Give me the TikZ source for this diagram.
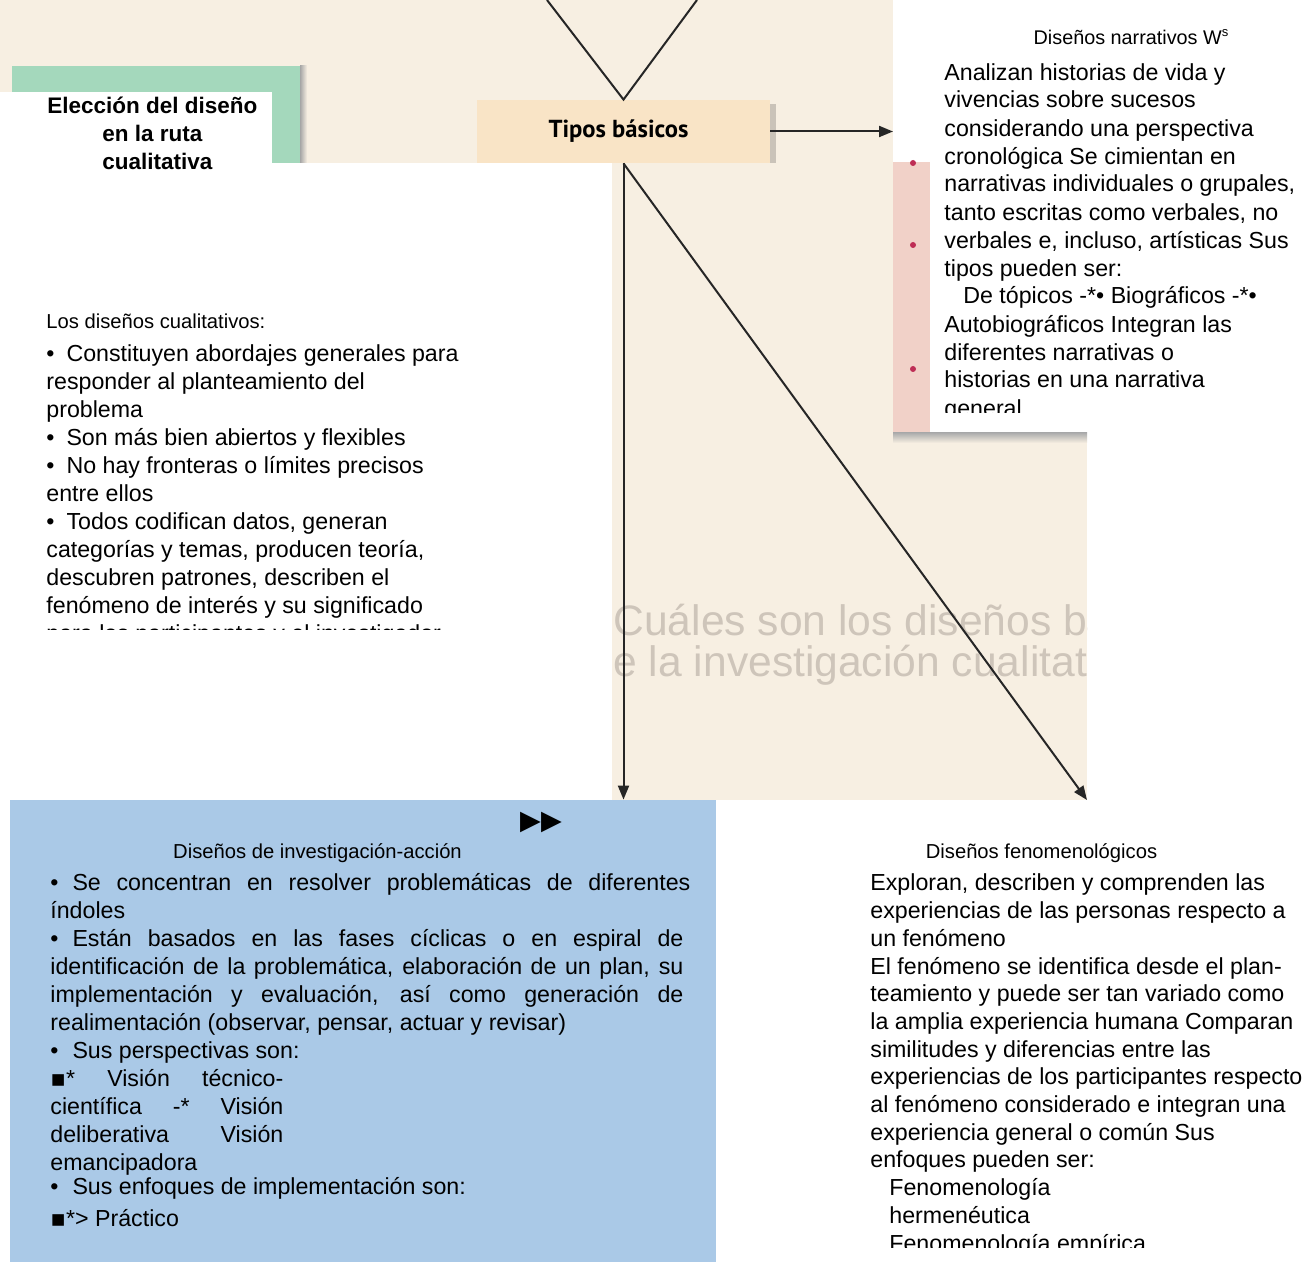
\documentclass[tikz,border=0pt]{standalone}
\usepackage{fontspec}
\setmainfont{Liberation Sans}
\newfontfamily\symfont{DejaVu Sans}
\newfontfamily\tiposfont{PT Sans}
\usetikzlibrary{arrows.meta}
\definecolor{paper}{RGB}{247,239,226}
\definecolor{mint}{RGB}{164,216,188}
\definecolor{peach}{RGB}{249,228,198}
\definecolor{rose}{RGB}{241,209,200}
\definecolor{skyblue}{RGB}{170,201,231}
\definecolor{dotred}{RGB}{190,45,85}
\definecolor{ink}{RGB}{38,38,38}
\definecolor{ghost}{RGB}{206,197,186}
\newcommand{\bodyfont}{\fontsize{11.6}{14}\selectfont}
\newcommand{\headfont}{\fontsize{10.1}{12}\selectfont}
\newcommand{\bul}{•\hspace{6pt}}
\newcommand{\sq}{{\symfont ▪}}
\begin{document}
\begin{tikzpicture}[x=0.5pt,y=-0.5pt,
  txt/.style={anchor=base west, inner sep=0pt, align=left, font=\bodyfont},
  ttl/.style={anchor=base, inner sep=0pt, font=\headfont},
  conn/.style={draw=ink, line width=1pt, -{Triangle[length=7pt,width=5.5pt]}},
  plainline/.style={draw=ink, line width=1pt},
  ghosttext/.style={anchor=base west, inner sep=0pt, text=ghost, font=\fontsize{21.3}{24}\selectfont},
  tiposbox/.style={fill=peach, minimum width=146.5pt, minimum height=31.5pt, inner sep=0pt, font=\tiposfont\bfseries\fontsize{12.3}{14}\selectfont}]
\useasboundingbox (0,0) rectangle (1306,1262);
\fill[white] (0,0) rectangle (1306,1262);
% scanned page behind
\fill[paper] (0,0) rectangle (893,163);
\fill[paper] (612,163) rectangle (893,800);
\fill[paper] (893,437) rectangle (1087,800);
\fill[rose] (893,162) rectangle (930,434);
\shade[top color=black!32, bottom color=paper] (893,433) rectangle (1087,443);
\fill[dotred] (913,163) circle (3);
\fill[dotred] (913,245) circle (3);
\fill[dotred] (913,369) circle (3);
\begin{scope}
  \clip (612,163) rectangle (1087,800);
  \node[ghosttext] (ghost1) at (613,635) {\llap{¿}Cuáles son los diseños básicos};
  \node[ghosttext] (ghost2) at (613,676) {\llap{d}e la investigación cualitativa?};
\end{scope}
% green title card
\fill[mint] (12,66) rectangle (300,163);
\shade[left color=black!35, right color=paper] (300,66) rectangle (307,163);
\fill[white] (0,92) rectangle (272,163);
\node[inner sep=0pt, align=left, anchor=base west, font=\bfseries\fontsize{11.25}{14}\selectfont] (eleccion) at (47,170) {Elección del diseño\\\hspace*{27.5pt}en la ruta\\\hspace*{27.5pt}cualitativa};
% central box
\fill[black, opacity=0.18] (481,104) rectangle (776,163);
\node[tiposbox] (tipos) at (623.5,131.5) {\hspace*{-2.5pt}Tipos básicos\hspace*{2.5pt}};
\coordinate (vl) at (547,0);
\coordinate (vr) at (697,0);
\draw[plainline] (vl) -- (tipos.north) -- (vr);
\coordinate (narrentry) at (893,131.5);
\draw[conn] (tipos.east) -- (narrentry);
% blue box
\node[fill=skyblue, minimum width=353pt, minimum height=231pt, inner sep=0pt] (accion) at (363,1031) {};
\draw[conn] (tipos.south) -- (tipos.south |- accion.north);
\coordinate (fenomentry) at (1087,800);
\draw[conn] (tipos.south) -- (fenomentry);
% narrative designs
\node[ttl, font=\fontsize{9.9}{12}\selectfont] (narrtit) at (1131,45) {Diseños narrativos W\raisebox{4pt}{\fontsize{6.5}{7}\selectfont s}};
\begin{scope}
\clip (930,0) rectangle (1306,413);
\node[txt] (narr) at (944,416) {Analizan historias de vida y\\
vivencias sobre sucesos\\
considerando una perspectiva\\
cronológica Se cimientan en\\
narrativas individuales o grupales,\\
tanto escritas como verbales, no\\
verbales e, incluso, artísticas Sus\\
tipos pueden ser:\\
\hspace*{9.5pt}De tópicos -*• Biográficos -*•\\
Autobiográficos Integran las\\
diferentes narrativas o\\
historias en una narrativa\\
general};
\end{scope}
% left block
\node[ttl, anchor=base west] (lostit) at (46,329) {Los diseños cualitativos:};
\begin{scope}
\clip (0,163) rectangle (612,629);
\node[txt] (los) at (46,641) {\bul Constituyen abordajes generales para\\
responder al planteamiento del\\
problema\\
\bul Son más bien abiertos y flexibles\\
\bul No hay fronteras o límites precisos\\
entre ellos\\
\bul Todos codifican datos, generan\\
categorías y temas, producen teoría,\\
descubren patrones, describen el\\
fenómeno de interés y su significado\\
para los participantes y el investigador};
\end{scope}
% action research
\node[inner sep=0pt, font=\symfont\fontsize{13.5}{14}\selectfont] (play) at (541,822) {▶▶};
\node[ttl] (acctit) at (317.5,858) {Diseños de investigación-acción};
\node[txt] (acc) at (50,1226) {\makebox[320pt][s]{•\hspace{7pt}Se concentran en resolver problemáticas de diferentes}\\
índoles\\
\makebox[316.5pt][s]{•\hspace{7pt}Están basados en las fases cíclicas o en espiral de}\\
\makebox[316.5pt][s]{identificación de la problemática, elaboración de un plan, su}\\
\makebox[316.5pt][s]{implementación y evaluación, así como generación de}\\
realimentación (observar, pensar, actuar y revisar)\\
•\hspace{7pt}Sus perspectivas son:\\
\makebox[116.5pt][s]{\sq* Visión técnico-}\\
\makebox[116.5pt][s]{científica -* Visión}\\
\makebox[116.5pt][s]{deliberativa Visión}\\
emancipadora\\[-2pt]
•\hspace{7pt}Sus enfoques de implementación son:\\[2pt]
\sq*> Práctico};
% phenomenological
\node[ttl] (fentit) at (1041.5,858) {Diseños fenomenológicos};
\begin{scope}
\clip (716,800) rectangle (1306,1247);
\node[txt, font=\fontsize{11.6}{13.85}\selectfont] (fen) at (870,1251) {Exploran, describen y comprenden las\\
experiencias de las personas respecto a\\
un fenómeno\\
El fenómeno se identifica desde el plan-\\
teamiento y puede ser tan variado como\\
la amplia experiencia humana Comparan\\
similitudes y diferencias entre las\\
experiencias de los participantes respecto\\
al fenómeno considerado e integran una\\
experiencia general o común Sus\\
enfoques pueden ser:\\
\hspace*{9.5pt}Fenomenología\\
\hspace*{9.5pt}hermenéutica\\
\hspace*{9.5pt}Fenomenología empírica};
\end{scope}
\end{tikzpicture}
\end{document}
